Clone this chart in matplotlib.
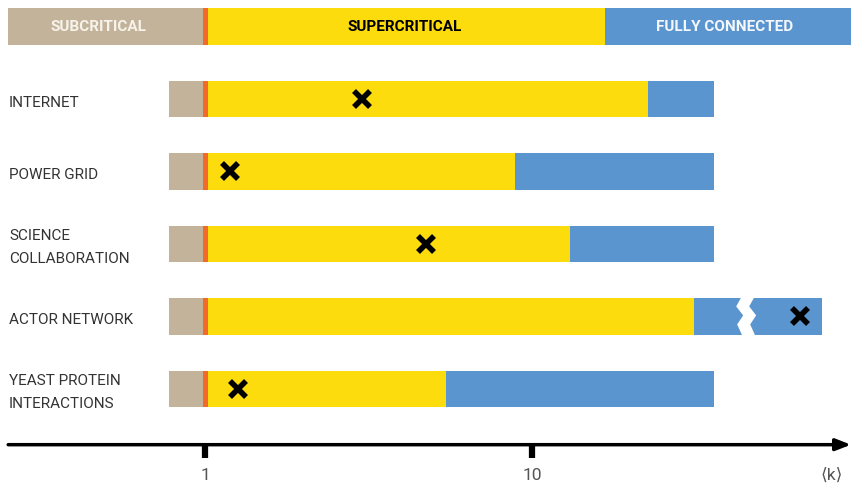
import matplotlib.pyplot as plt
import matplotlib.transforms as mtransforms
from matplotlib.patches import Polygon

# regime boundaries on the <k> axis (top band)
BAND_START = 0.25
CRITICAL = 1.0
FULL_START = 16.7
AXIS_MIN, AXIS_MAX = 0.236, 94.5

# networks, top to bottom
networks = ['INTERNET', 'POWER GRID', 'SCIENCE\nCOLLABORATION', 'ACTOR NETWORK',
            'YEAST PROTEIN\nINTERACTIONS']
row_start = [0.776, 0.776, 0.776, 0.776, 0.776]
super_end = [22.6, 8.87, 13.1, 31.3, 5.46]   # end of supercritical (yellow)
full_end = [36.0, 36.0, 36.0, 77.1, 36.0]    # end of fully connected (blue)
mean_k = [3.02, 1.19, 4.74, 66.0, 1.26]      # observed <k> (cross)
break_row = 3                                 # actor network axis break
break_k = 43.3

band_labels = ['SUBCRITICAL', 'SUPERCRITICAL', 'FULLY CONNECTED']
band_label_k = [0.471, 4.09, 38.9]

tick_vals = [1, 10]
tick_labels = ['1', '10']

TAN = '#c2b39a'
ORANGE = '#f26a2a'
YELLOW = '#fcdc0c'
BLUE = '#5a95cf'
TXT = '#333333'

plt.rcParams['font.family'] = ['Roboto', 'DejaVu Sans']

fig = plt.figure(figsize=(8.51, 4.86), dpi=100)
ax = fig.add_axes([0, 0, 1, 1])
ax.set_xscale('log')
ax.set_xlim(AXIS_MIN, AXIS_MAX)
ax.set_ylim(5.34, -1.366)
ax.axis('off')

H = 0.5
ORANGE_W = (0.986, 1.021)

# top band
ax.barh(-1, CRITICAL - BAND_START, left=BAND_START, height=H, color=TAN, lw=0)
ax.barh(-1, FULL_START - CRITICAL, left=CRITICAL, height=H, color=YELLOW, lw=0)
ax.barh(-1, AXIS_MAX * 2 - FULL_START, left=FULL_START, height=H, color=BLUE, lw=0)
ax.barh(-1, ORANGE_W[1] - ORANGE_W[0], left=ORANGE_W[0], height=H, color=ORANGE, lw=0)

band_colors = ['#f7f3ea', 'black', '#f4f7fb']
for k, lab, c in zip(band_label_k, band_labels, band_colors):
    ax.text(k, -1, lab, color=c, fontsize=11, fontweight='bold', ha='center', va='center')

# network rows
for i, name in enumerate(networks):
    ax.barh(i, CRITICAL - row_start[i], left=row_start[i], height=H, color=TAN, lw=0)
    ax.barh(i, super_end[i] - CRITICAL, left=CRITICAL, height=H, color=YELLOW, lw=0)
    ax.barh(i, full_end[i] - super_end[i], left=super_end[i], height=H, color=BLUE, lw=0)
    ax.barh(i, ORANGE_W[1] - ORANGE_W[0], left=ORANGE_W[0], height=H, color=ORANGE, lw=0)
    ax.plot(mean_k[i], i, marker='x', ms=12, mew=4, color='black', zorder=5)
    ax.text(9 / 851, i + 0.05, name, transform=ax.get_yaxis_transform(), ha='left',
            va='center', fontsize=11, color=TXT, linespacing=1.85)

# zigzag break on the actor network bar (pixel offsets, y downward)
left_edge = [(1, -20), (1, -19), (-4, -10), (3, -1), (-3, 8), (2, 19), (2, 20)]
right_edge = [(x + 13, y) for x, y in left_edge][::-1]
x0, y0 = ax.transData.transform((break_k, break_row))
zig = Polygon([(x, -y) for x, y in left_edge + right_edge], closed=True,
              facecolor='white', edgecolor='none', zorder=4,
              transform=mtransforms.Affine2D().translate(x0, y0))
fig.patches.append(zig)
zig.set_figure(fig)

# horizontal axis with arrow
AXIS_Y = 4.77
ax.annotate('', xy=(AXIS_MAX, AXIS_Y), xytext=(0.25, AXIS_Y),
            arrowprops=dict(arrowstyle='-|>,head_length=0.9,head_width=0.35',
                            lw=2.5, color='black', shrinkA=0, shrinkB=0))
for v, lab in zip(tick_vals, tick_labels):
    ax.plot([v, v], [AXIS_Y, 4.95], color='black', lw=4.5, solid_capstyle='butt')
    ax.text(v, 5.2, lab, ha='center', va='center', fontsize=12.5, color='#555555')
ax.text(82.3, 5.19, '⟨k⟩', ha='center', va='center', fontsize=12.5, color='#555555')

fig.savefig('out.png', dpi=100)
